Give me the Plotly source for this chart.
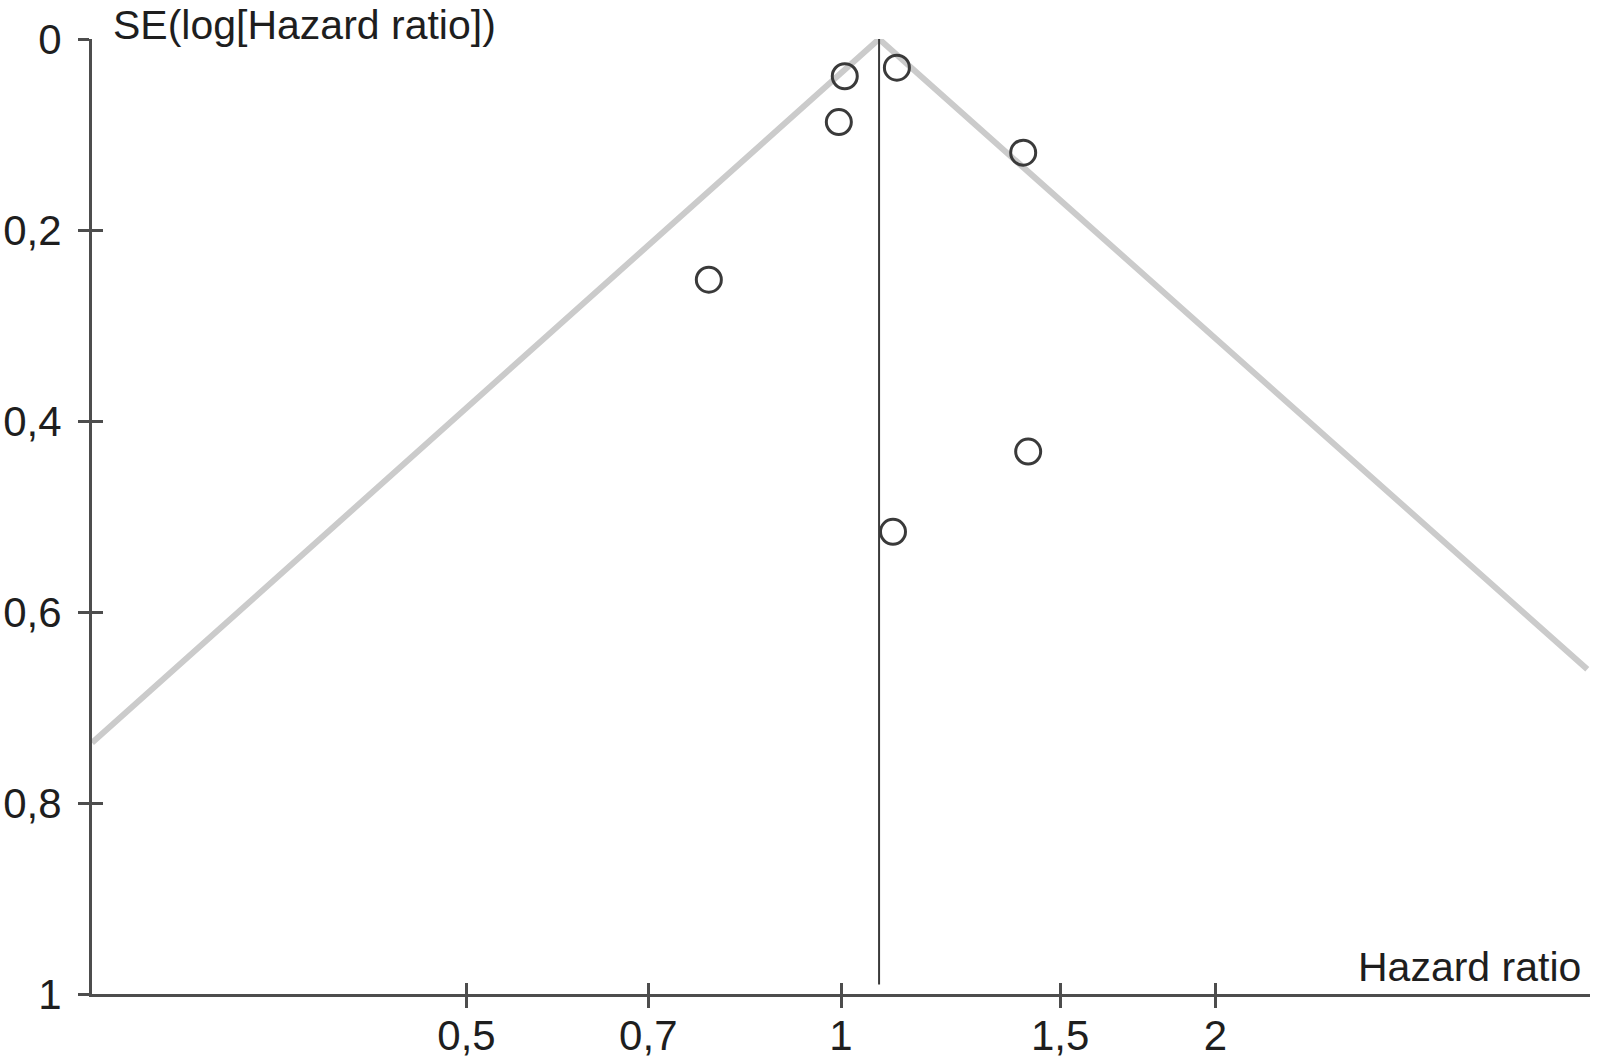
import plotly.graph_objects as go

# Study estimates
hazard_ratio = [1.007, 1.109, 0.996, 1.401, 0.783, 1.414, 1.101]
se_log_hr = [0.039, 0.030, 0.087, 0.119, 0.252, 0.432, 0.516]

# Pooled estimate and funnel outline
pooled_hr = 1.073
funnel_hr = [0.25, pooled_hr, 3.98]
funnel_se = [0.737, 0.0, 0.660]
pooled_line_se = [0.0, 0.99]

x_ticks = [0.5, 0.7, 1, 1.5, 2]
x_ticktext = ["0,5", "0,7", "1", "1,5", "2"]
y_ticks = [0, 0.2, 0.4, 0.6, 0.8, 1]
y_ticktext = ["0", "0,2", "0,4", "0,6", "0,8", "1"]

x_range = [-0.60206, 0.60206]  # log10(0.25) .. log10(4)
y_range = [1, 0]

FONT = "Liberation Sans, Arial, sans-serif"
AXIS_COL = "#4d4d4d"
TEXT_COL = "#1e1e1e"

fig = go.Figure()

fig.add_trace(go.Scatter(
    x=funnel_hr, y=funnel_se, mode="lines",
    line=dict(color="#cbcbcb", width=6), hoverinfo="skip", showlegend=False))

fig.add_trace(go.Scatter(
    x=[pooled_hr, pooled_hr], y=pooled_line_se, mode="lines",
    line=dict(color="#3a3a3a", width=2), hoverinfo="skip", showlegend=False))

fig.add_trace(go.Scatter(
    x=hazard_ratio, y=se_log_hr, mode="markers",
    marker=dict(symbol="circle-open", size=25, color="#3a3a3a", line=dict(width=3, color="#3a3a3a")),
    showlegend=False))

# invisible trace on the overlay axes, which draw the inner half of the ticks
fig.add_trace(go.Scatter(x=[1], y=[0.5], xaxis="x2", yaxis="y2", mode="markers",
                         marker=dict(opacity=0), hoverinfo="skip", showlegend=False))

common = dict(showgrid=False, zeroline=False, automargin=False,
              tickcolor=AXIS_COL, tickwidth=3, ticklen=11,
              tickfont=dict(family=FONT, size=42, color=TEXT_COL))

fig.update_layout(
    width=1601, height=1064,
    margin=dict(l=92, r=11, t=39, b=70),
    paper_bgcolor="white", plot_bgcolor="white",
    xaxis=dict(type="log", range=x_range, tickvals=x_ticks, ticktext=x_ticktext,
               ticks="outside", showline=True, linecolor=AXIS_COL, linewidth=3,
               ticklabelstandoff=-8, **common),
    yaxis=dict(range=y_range, tickvals=y_ticks, ticktext=y_ticktext,
               ticks="outside", showline=True, linecolor=AXIS_COL, linewidth=3,
               ticklabelstandoff=8, **common),
    xaxis2=dict(type="log", range=x_range, tickvals=x_ticks, overlaying="x", anchor="y2",
                side="bottom", ticks="inside", showticklabels=False, showline=False, **common),
    yaxis2=dict(range=y_range, tickvals=y_ticks, overlaying="y", anchor="x2",
                side="left", ticks="inside", showticklabels=False, showline=False, **common),
)

fig.add_annotation(text="SE(log[Hazard ratio])", xref="paper", yref="paper",
                   x=(111 - 92) / 1498, y=1, yshift=39, xanchor="left", yanchor="top",
                   showarrow=False, font=dict(family=FONT, size=41, color=TEXT_COL))
fig.add_annotation(text="Hazard ratio", xref="paper", yref="paper",
                   x=(1583 - 92) / 1498, y=0, yshift=27, xanchor="right", yanchor="middle",
                   showarrow=False, font=dict(family=FONT, size=41, color=TEXT_COL))

# drop the default 8 px page margin so the figure fills the window exactly
fig.write_html("out.html", config={"displayModeBar": False},
               post_script="document.body.style.margin='0px';")
